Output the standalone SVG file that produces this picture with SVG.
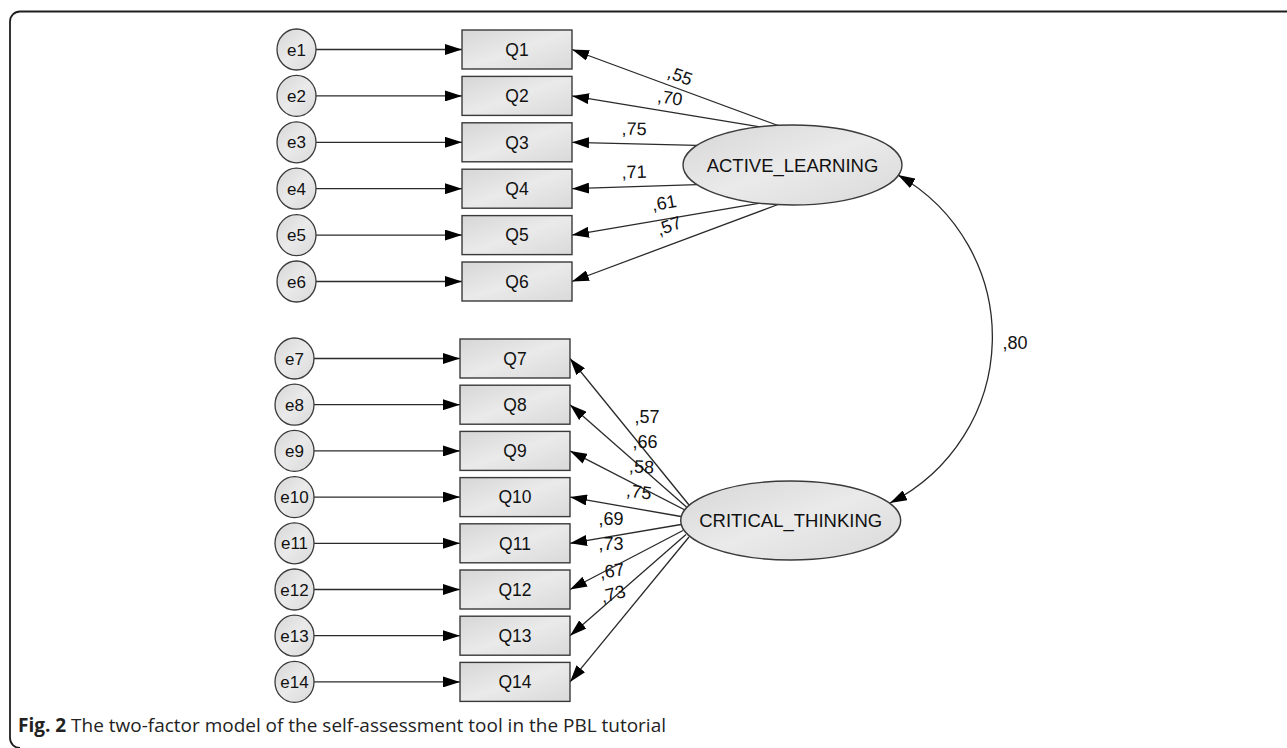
<svg xmlns="http://www.w3.org/2000/svg" width="1287" height="748" viewBox="0 0 1287 748">
<style>
.frame{fill:none;stroke:#1e1e1e;stroke-width:1.8}
.box{fill:url(#g);stroke:#3a3a3a;stroke-width:1.4}
.err{fill:url(#g);stroke:#3a3a3a;stroke-width:1.3}
.lat{fill:url(#g);stroke:#3a3a3a;stroke-width:1.4}
.ln{fill:none;stroke:#2a2a2a;stroke-width:1.3}
.arr{marker-end:url(#ah)}
.t{font-family:"Liberation Sans",Arial,sans-serif;fill:#111;text-anchor:middle}
.q{font-size:17.5px}
.e{font-size:17px}
.big{font-size:18.5px}
.lbl{font-family:"Liberation Sans",Arial,sans-serif;font-size:18px;fill:#111;text-anchor:middle}
.cap{font-family:"Open Sans","Noto Sans",sans-serif;font-size:19px;fill:#222}
</style>
<defs>
<linearGradient id="g" x1="0" y1="0" x2="1" y2="1">
<stop offset="0" stop-color="#d6d6d6"/>
<stop offset="0.5" stop-color="#eaeaea"/>
<stop offset="1" stop-color="#d9d9d9"/>
</linearGradient>
<marker id="ah" markerUnits="userSpaceOnUse" markerWidth="17" markerHeight="11" refX="17" refY="5.5" orient="auto-start-reverse">
<path d="M0,0 L17,5.5 L0,11 z" fill="#000"/>
</marker>
</defs>

<path class="frame" d="M1287,11.5 H20 A10,10 0 0 0 10,21.5 V738 A10,10 0 0 0 20,748"/>

<g id="connectors">
<line class="ln arr" x1="316" y1="49.5" x2="462" y2="49.5"/>
<line class="ln arr" x1="316" y1="95.9" x2="462" y2="95.9"/>
<line class="ln arr" x1="316" y1="142.3" x2="462" y2="142.3"/>
<line class="ln arr" x1="316" y1="188.7" x2="462" y2="188.7"/>
<line class="ln arr" x1="316" y1="235.1" x2="462" y2="235.1"/>
<line class="ln arr" x1="316" y1="281.5" x2="462" y2="281.5"/>
<line class="ln arr" x1="314" y1="358.5" x2="460" y2="358.5"/>
<line class="ln arr" x1="314" y1="404.7" x2="460" y2="404.7"/>
<line class="ln arr" x1="314" y1="450.9" x2="460" y2="450.9"/>
<line class="ln arr" x1="314" y1="497.1" x2="460" y2="497.1"/>
<line class="ln arr" x1="314" y1="543.3" x2="460" y2="543.3"/>
<line class="ln arr" x1="314" y1="589.5" x2="460" y2="589.5"/>
<line class="ln arr" x1="314" y1="635.7" x2="460" y2="635.7"/>
<line class="ln arr" x1="314" y1="681.9" x2="460" y2="681.9"/>
<line class="ln arr" x1="778" y1="125.5" x2="572" y2="49.5"/>
<line class="ln arr" x1="760" y1="126.8" x2="572" y2="95.9"/>
<line class="ln arr" x1="697" y1="145.4" x2="572" y2="142.3"/>
<line class="ln arr" x1="697" y1="184.6" x2="572" y2="188.7"/>
<line class="ln arr" x1="760" y1="203.2" x2="572" y2="235.1"/>
<line class="ln arr" x1="778" y1="204.5" x2="572" y2="281.5"/>
<line class="ln arr" x1="689" y1="505" x2="570" y2="358.5"/>
<line class="ln arr" x1="687" y1="507.5" x2="570" y2="404.7"/>
<line class="ln arr" x1="685" y1="510" x2="570" y2="450.9"/>
<line class="ln arr" x1="681" y1="516.5" x2="570" y2="497.1"/>
<line class="ln arr" x1="681" y1="524.5" x2="570" y2="543.3"/>
<line class="ln arr" x1="683" y1="530.5" x2="570" y2="589.5"/>
<line class="ln arr" x1="686" y1="534.5" x2="570" y2="635.7"/>
<line class="ln arr" x1="689" y1="537" x2="570" y2="681.9"/>
<path class="ln" d="M898,175 A186,186 0 0 1 890,503" marker-start="url(#ah)" marker-end="url(#ah)"/>
<text class="lbl" transform="translate(680,76) rotate(20)" y="6">,55</text>
<text class="lbl" transform="translate(670,98) rotate(9)" y="6">,70</text>
<text class="lbl" transform="translate(634,129) rotate(1)" y="6">,75</text>
<text class="lbl" transform="translate(634,172) rotate(-2)" y="6">,71</text>
<text class="lbl" transform="translate(664,203) rotate(-10)" y="6">,61</text>
<text class="lbl" transform="translate(669,226) rotate(-20)" y="6">,57</text>
<text class="lbl" transform="translate(647,417)" y="6">,57</text>
<text class="lbl" transform="translate(645,442)" y="6">,66</text>
<text class="lbl" transform="translate(641.5,467) rotate(3)" y="6">,58</text>
<text class="lbl" transform="translate(639,492) rotate(8)" y="6">,75</text>
<text class="lbl" transform="translate(611,519)" y="6">,69</text>
<text class="lbl" transform="translate(611,544)" y="6">,73</text>
<text class="lbl" transform="translate(612,571) rotate(-8)" y="6">,67</text>
<text class="lbl" transform="translate(613,594) rotate(-15)" y="6">,73</text>
<text class="lbl" x="1015" y="349">,80</text>
</g>

<g id="e1"><ellipse class="err" cx="296.5" cy="49.5" rx="19.5" ry="20.5"/><text class="t e" x="296.5" y="55.5">e1</text></g>
<g id="e2"><ellipse class="err" cx="296.5" cy="95.9" rx="19.5" ry="20.5"/><text class="t e" x="296.5" y="101.9">e2</text></g>
<g id="e3"><ellipse class="err" cx="296.5" cy="142.3" rx="19.5" ry="20.5"/><text class="t e" x="296.5" y="148.3">e3</text></g>
<g id="e4"><ellipse class="err" cx="296.5" cy="188.7" rx="19.5" ry="20.5"/><text class="t e" x="296.5" y="194.7">e4</text></g>
<g id="e5"><ellipse class="err" cx="296.5" cy="235.1" rx="19.5" ry="20.5"/><text class="t e" x="296.5" y="241.1">e5</text></g>
<g id="e6"><ellipse class="err" cx="296.5" cy="281.5" rx="19.5" ry="20.5"/><text class="t e" x="296.5" y="287.5">e6</text></g>
<g id="e7"><ellipse class="err" cx="294.5" cy="358.5" rx="19.5" ry="20.5"/><text class="t e" x="294.5" y="364.5">e7</text></g>
<g id="e8"><ellipse class="err" cx="294.5" cy="404.7" rx="19.5" ry="20.5"/><text class="t e" x="294.5" y="410.7">e8</text></g>
<g id="e9"><ellipse class="err" cx="294.5" cy="450.9" rx="19.5" ry="20.5"/><text class="t e" x="294.5" y="456.9">e9</text></g>
<g id="e10"><ellipse class="err" cx="294.5" cy="497.1" rx="19.5" ry="20.5"/><text class="t e" x="294.5" y="503.1">e10</text></g>
<g id="e11"><ellipse class="err" cx="294.5" cy="543.3" rx="19.5" ry="20.5"/><text class="t e" x="294.5" y="549.3">e11</text></g>
<g id="e12"><ellipse class="err" cx="294.5" cy="589.5" rx="19.5" ry="20.5"/><text class="t e" x="294.5" y="595.5">e12</text></g>
<g id="e13"><ellipse class="err" cx="294.5" cy="635.7" rx="19.5" ry="20.5"/><text class="t e" x="294.5" y="641.7">e13</text></g>
<g id="e14"><ellipse class="err" cx="294.5" cy="681.9" rx="19.5" ry="20.5"/><text class="t e" x="294.5" y="687.9">e14</text></g>

<g id="Q1"><rect class="box" x="462" y="30" width="110" height="39"/><text class="t q" x="517" y="55.8">Q1</text></g>
<g id="Q2"><rect class="box" x="462" y="76.4" width="110" height="39"/><text class="t q" x="517" y="102.2">Q2</text></g>
<g id="Q3"><rect class="box" x="462" y="122.8" width="110" height="39"/><text class="t q" x="517" y="148.6">Q3</text></g>
<g id="Q4"><rect class="box" x="462" y="169.2" width="110" height="39"/><text class="t q" x="517" y="195">Q4</text></g>
<g id="Q5"><rect class="box" x="462" y="215.6" width="110" height="39"/><text class="t q" x="517" y="241.4">Q5</text></g>
<g id="Q6"><rect class="box" x="462" y="262" width="110" height="39"/><text class="t q" x="517" y="287.8">Q6</text></g>
<g id="Q7"><rect class="box" x="460" y="339" width="110" height="39"/><text class="t q" x="515" y="364.8">Q7</text></g>
<g id="Q8"><rect class="box" x="460" y="385.2" width="110" height="39"/><text class="t q" x="515" y="411">Q8</text></g>
<g id="Q9"><rect class="box" x="460" y="431.4" width="110" height="39"/><text class="t q" x="515" y="457.2">Q9</text></g>
<g id="Q10"><rect class="box" x="460" y="477.6" width="110" height="39"/><text class="t q" x="515" y="503.4">Q10</text></g>
<g id="Q11"><rect class="box" x="460" y="523.8" width="110" height="39"/><text class="t q" x="515" y="549.6">Q11</text></g>
<g id="Q12"><rect class="box" x="460" y="570" width="110" height="39"/><text class="t q" x="515" y="595.8">Q12</text></g>
<g id="Q13"><rect class="box" x="460" y="616.2" width="110" height="39"/><text class="t q" x="515" y="642">Q13</text></g>
<g id="Q14"><rect class="box" x="460" y="662.4" width="110" height="39"/><text class="t q" x="515" y="688.2">Q14</text></g>

<g id="ACTIVE_LEARNING"><ellipse class="lat" cx="792.5" cy="165" rx="109.5" ry="40"/><text class="t big" x="792.5" y="171.5">ACTIVE_LEARNING</text></g>
<g id="CRITICAL_THINKING"><ellipse class="lat" cx="790.7" cy="520.5" rx="110" ry="39.5"/><text class="t big" x="790.7" y="527">CRITICAL_THINKING</text></g>

<text class="cap" x="18" y="732" textLength="648" lengthAdjust="spacingAndGlyphs"><tspan font-weight="bold">Fig. 2</tspan> The two-factor model of the self-assessment tool in the PBL tutorial</text>
</svg>
